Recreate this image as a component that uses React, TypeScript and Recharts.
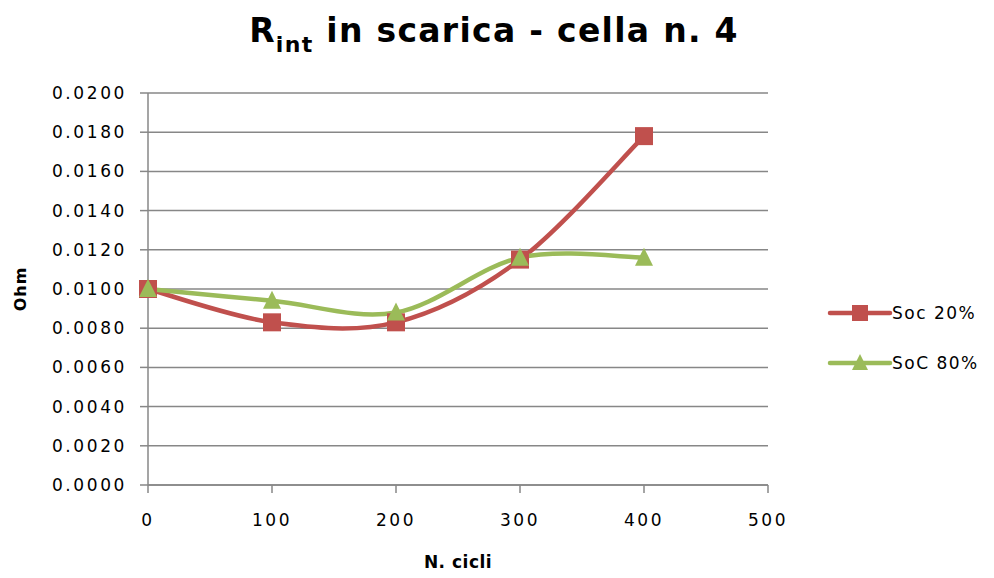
import React from "react";
import {
  LineChart, Line, XAxis, YAxis, CartesianGrid, Legend,
} from "recharts";

const cycles = [0, 100, 200, 300, 400];
const soc20 = [0.01, 0.0083, 0.0083, 0.0115, 0.0178];
const soc80 = [0.01, 0.0094, 0.0088, 0.0116, 0.0116];
const xTicks = [0, 100, 200, 300, 400, 500];
const yTicks = [0, 0.002, 0.004, 0.006, 0.008, 0.01, 0.012, 0.014, 0.016, 0.018, 0.02];
const seriesOrder = ["soc20", "soc80"];

const data = cycles.map((c, i) => ({ cycles: c, soc20: soc20[i], soc80: soc80[i] }));

const RED = "#C0504D";
const GREEN = "#9BBB59";
const FONT = "'DejaVu Sans', sans-serif";

// excel-like smoothed line (catmull-rom through the points)
function smoothCurve(context: any) {
  let pts: number[][] = [];
  return {
    areaStart() {},
    areaEnd() {},
    lineStart() { pts = []; },
    point(x: number, y: number) { pts.push([+x, +y]); },
    lineEnd() {
      const n = pts.length;
      if (!n) return;
      context.moveTo(pts[0][0], pts[0][1]);
      for (let i = 0; i < n - 1; i++) {
        const p0 = pts[Math.max(0, i - 1)];
        const p1 = pts[i];
        const p2 = pts[i + 1];
        const p3 = pts[Math.min(n - 1, i + 2)];
        context.bezierCurveTo(
          p1[0] + (p2[0] - p0[0]) / 6, p1[1] + (p2[1] - p0[1]) / 6,
          p2[0] - (p3[0] - p1[0]) / 6, p2[1] - (p3[1] - p1[1]) / 6,
          p2[0], p2[1],
        );
      }
    },
  };
}

const squareDot = (props: any) => {
  const { cx, cy, index } = props;
  return <rect key={`sq-${index}`} x={cx - 9} y={cy - 9} width={18} height={18} fill={RED} />;
};

const triangleDot = (props: any) => {
  const { cx, cy, index } = props;
  return (
    <polygon
      key={`tr-${index}`}
      points={`${cx},${cy - 10} ${cx + 9},${cy + 8} ${cx - 9},${cy + 8}`}
      fill={GREEN}
    />
  );
};

function LegendContent({ payload }: any) {
  const items = [...(payload || [])].sort(
    (a: any, b: any) => seriesOrder.indexOf(a.dataKey) - seriesOrder.indexOf(b.dataKey),
  );
  return (
    <svg width={170} height={90} style={{ display: "block" }}>
      {items.map((p: any, i: number) => {
        const y = 18 + i * 50;
        return (
          <g key={p.value}>
            <line x1={5} x2={65} y1={y} y2={y} stroke={p.color} strokeWidth={4.5} strokeLinecap="round" />
            {p.dataKey === "soc20" ? (
              <rect x={27} y={y - 8} width={16} height={16} fill={p.color} />
            ) : (
              <polygon points={`35,${y - 9} 43,${y + 7} 27,${y + 7}`} fill={p.color} />
            )}
            <text x={67} y={y + 6} fontFamily={FONT} fontSize={17} letterSpacing={1.5} fill="#000">
              {p.value}
            </text>
          </g>
        );
      })}
    </svg>
  );
}

export default function App() {
  return (
    <div style={{ position: "absolute", left: 0, top: 0, width: 994, height: 578, background: "#fff" }}>
      <svg width={994} height={70} style={{ position: "absolute", left: 0, top: 0 }}>
        <text
          x={494}
          y={42}
          textAnchor="middle"
          fontFamily={FONT}
          fontWeight="bold"
          fontSize={33}
          letterSpacing={1.3}
          fill="#000"
        >
          R<tspan dy={10} fontSize={22}>int</tspan>
          <tspan dy={-10}>{"  in scarica - cella n. 4"}</tspan>
        </text>
      </svg>
      <LineChart
        width={994}
        height={578}
        data={data}
        margin={{ top: 93, right: 226, bottom: 0, left: 0 }}
        style={{ fontFamily: FONT }}
      >
        <CartesianGrid vertical={false} stroke="#878787" strokeWidth={1.5} />
        <XAxis
          dataKey="cycles"
          type="number"
          domain={[0, 500]}
          ticks={xTicks}
          height={93}
          stroke="#878787"
          strokeWidth={1.5}
          tickSize={8}
          tickMargin={21}
          tick={{ fontSize: 17, fill: "#000", letterSpacing: 2.5 }}
          label={{
            content: ({ viewBox }: any) => (
              <text
                x={viewBox.x + viewBox.width / 2}
                y={viewBox.y + 83}
                textAnchor="middle"
                fontFamily={FONT}
                fontWeight="bold"
                fontSize={17}
                letterSpacing={0.5}
                fill="#000"
              >
                N. cicli
              </text>
            ),
          }}
        />
        <YAxis
          type="number"
          domain={[0, 0.02]}
          ticks={yTicks}
          width={148}
          stroke="#878787"
          strokeWidth={1.5}
          tickSize={8}
          tickMargin={13}
          tickFormatter={(v: number) => v.toFixed(4)}
          tick={{ fontSize: 17, fill: "#000", letterSpacing: 2.6 }}
          label={{
            content: ({ viewBox }: any) => {
              const x = 26;
              const y = viewBox.y + viewBox.height / 2;
              return (
                <text
                  x={x}
                  y={y}
                  transform={`rotate(-90 ${x} ${y})`}
                  textAnchor="middle"
                  fontFamily={FONT}
                  fontWeight="bold"
                  fontSize={16}
                  letterSpacing={1}
                  fill="#000"
                >
                  Ohm
                </text>
              );
            },
          }}
        />
        <Legend
          layout="vertical"
          align="center"
          verticalAlign="middle"
          content={<LegendContent />}
          wrapperStyle={{ left: 825, top: 295, width: 170, height: 90 }}
        />
        <Line
          dataKey="soc20"
          name="Soc 20%"
          type={smoothCurve as any}
          stroke={RED}
          strokeWidth={4.5}
          dot={squareDot}
          activeDot={false}
          isAnimationActive={false}
        />
        <Line
          dataKey="soc80"
          name="SoC 80%"
          type={smoothCurve as any}
          stroke={GREEN}
          strokeWidth={4.5}
          dot={triangleDot}
          activeDot={false}
          isAnimationActive={false}
        />
      </LineChart>
    </div>
  );
}
